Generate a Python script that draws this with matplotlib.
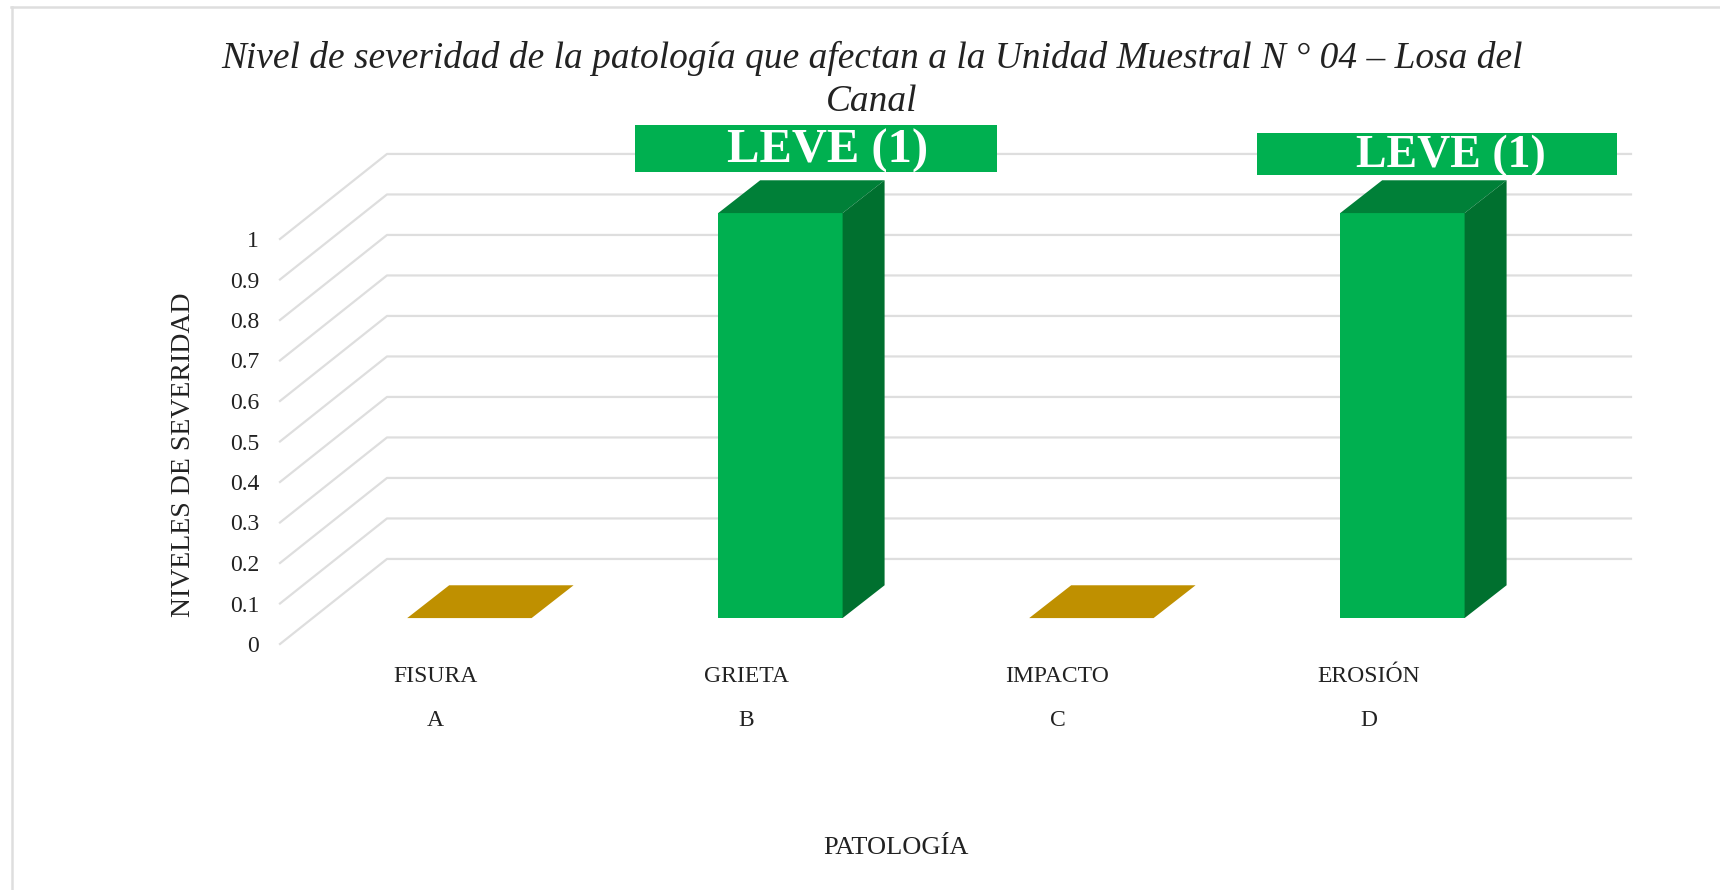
#!/usr/bin/env python3
import matplotlib
matplotlib.use('Agg')
import matplotlib.pyplot as plt
from matplotlib.lines import Line2D
from matplotlib.patches import Polygon, Rectangle

categories = ['FISURA', 'GRIETA', 'IMPACTO', 'EROSIÓN']
letters = ['A', 'B', 'C', 'D']
severity = [0, 1, 0, 1]
y_ticks = [0, 0.1, 0.2, 0.3, 0.4, 0.5, 0.6, 0.7, 0.8, 0.9, 1]
y_ticklabels = ['0', '0.1', '0.2', '0.3', '0.4', '0.5', '0.6', '0.7', '0.8', '0.9', '1']
title = 'Nivel de severidad de la patología que afectan a la Unidad Muestral N ° 04 – Losa del\nCanal'

W, H = 1720, 890
GRID = '#dedede'
FRONT, TOP, SIDE = '#00b050', '#008038', '#00702f'
ZERO = '#bf9000'
INK = '#222222'

# depth of the fake 3d box, in data units
BACK_DX, BACK_DY = 0.344, 0.21
BAR_DX, BAR_DY = 0.109, 0.064
DEPTH_DX, DEPTH_DY = 0.135, 0.081
HALF = 0.2

plt.rcParams['font.family'] = ['Liberation Serif', 'DejaVu Serif']

fig = plt.figure(figsize=(W/100, H/100), dpi=100)
ax = fig.add_axes([280/W, 1-644/H, (1524-280)/W, (644-239)/H])
ax.set_xlim(-0.5, 3.5)
ax.set_ylim(0, 1)
ax.patch.set_alpha(0)
for s in ax.spines.values():
    s.set_visible(False)

# outer chart border, only top and left are inside the crop
fig.add_artist(Line2D([12/W, 12/W], [0, 1-7/H], color=GRID, lw=1.8))
fig.add_artist(Line2D([11/W, 1], [1-7/H, 1-7/H], color=GRID, lw=1.8))

# wall and floor lines
for v in y_ticks:
    ax.plot([-0.5, -0.5+BACK_DX, 3.5+BACK_DX], [v, v+BACK_DY, v+BACK_DY],
            color=GRID, lw=1.6, clip_on=False, zorder=1)

for i, v in enumerate(severity):
    x0, x1 = i-HALF+BAR_DX, i+HALF+BAR_DX
    y0 = BAR_DY
    y1 = y0 + v
    if v == 0:
        ax.add_patch(Polygon([(x0, y0), (x1, y0), (x1+DEPTH_DX, y0+DEPTH_DY), (x0+DEPTH_DX, y0+DEPTH_DY)],
                             fc=ZERO, ec='none', clip_on=False, zorder=3))
    else:
        ax.add_patch(Rectangle((x0, y0), x1-x0, v, fc=FRONT, ec='none', clip_on=False, zorder=3))
        ax.add_patch(Polygon([(x0, y1), (x1, y1), (x1+DEPTH_DX, y1+DEPTH_DY), (x0+DEPTH_DX, y1+DEPTH_DY)],
                             fc=TOP, ec='none', clip_on=False, zorder=3))
        ax.add_patch(Polygon([(x1, y0), (x1+DEPTH_DX, y0+DEPTH_DY), (x1+DEPTH_DX, y1+DEPTH_DY), (x1, y1)],
                             fc=SIDE, ec='none', clip_on=False, zorder=3))

ax.set_yticks(y_ticks)
ax.set_yticklabels(y_ticklabels, fontsize=17, color=INK)
ax.set_xticks(range(len(categories)))
ax.set_xticklabels(categories, fontsize=17, color=INK)
ax.tick_params(axis='y', length=0, pad=15)
ax.tick_params(axis='x', length=0, pad=16)
for i, l in enumerate(letters):
    ax.annotate(l, (i, 0), xycoords=ax.get_xaxis_transform(), xytext=(0, -76*0.72),
                textcoords='offset points', ha='center', va='center', fontsize=17, color=INK)

# LEVE boxes
def leve_box(x0, x1, y0, y1, tx, base, size):
    fig.add_artist(Rectangle((x0/W, 1-y1/H), (x1-x0)/W, (y1-y0)/H, transform=fig.transFigure,
                             fc=FRONT, ec='none', zorder=5))
    fig.text(tx/W, 1-base/H, 'LEVE (1)', color='white', fontsize=size, fontweight='bold',
             ha='center', va='baseline', zorder=6)

leve_box(635, 997, 125, 172, 828, 163, 35)
leve_box(1257, 1617, 133, 175, 1451, 167, 33)

fig.text(872/W, 1-80/H, title, fontsize=26.9, style='italic', ha='center', va='center',
         color=INK, linespacing=1.3)
fig.text(184/W, 1-455/H, 'NIVELES DE SEVERIDAD', fontsize=20, rotation=90,
         ha='center', va='center', color=INK)
fig.text(896/W, 1-848/H, 'PATOLOGÍA', fontsize=19, ha='center', va='center', color=INK)

fig.savefig('out.png', dpi=100)
